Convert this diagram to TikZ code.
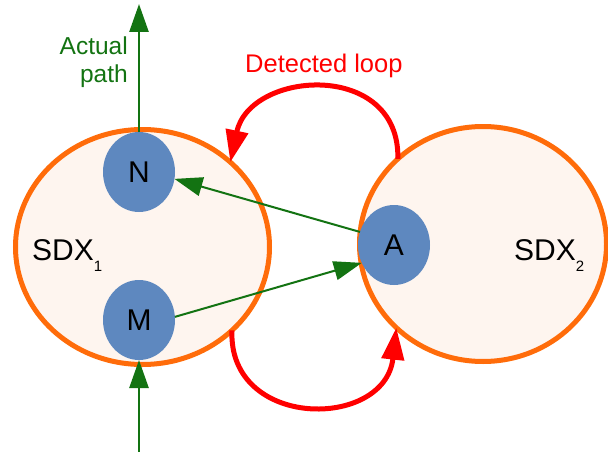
\documentclass[tikz,border=0pt]{standalone}
\usepackage{fontspec}
\setmainfont{Liberation Sans}
\usetikzlibrary{shapes.geometric,arrows.meta}

\definecolor{sdxorange}{HTML}{FF6C0A}
\definecolor{sdxfill}{HTML}{FEF5EF}
\definecolor{hostblue}{HTML}{5E88BF}
\definecolor{flowgreen}{HTML}{137312}
\definecolor{loopred}{HTML}{FF0000}

\tikzset{
  sdx/.style={ellipse, draw=sdxorange, fill=sdxfill, line width=5pt,
    inner sep=0pt, outer sep=0pt},
  host/.style={ellipse, fill=hostblue, inner sep=0pt, outer sep=0pt,
    minimum width=72pt, minimum height=80pt,
    font=\fontsize{30}{36}\selectfont},
  flow/.style={draw=flowgreen, line width=2pt,
    -{Triangle[length=28pt,width=19pt]}},
  loopcurve/.style={draw=loopred, line width=5pt,
    -{Triangle[length=32pt,width=22pt]}},
  greentext/.style={text=flowgreen, inner sep=0pt,
    font=\fontsize{24.5}{28}\selectfont},
  redtext/.style={text=loopred, inner sep=0pt,
    font=\fontsize{25.5}{30}\selectfont},
  sdxtext/.style={inner sep=0pt, font=\fontsize{30}{36}\selectfont},
}

\newcommand{\sdxsub}[1]{\raisebox{-11pt}{\fontsize{15}{15}\selectfont #1}}

\begin{document}
\begin{tikzpicture}[x=1pt,y=-1pt]
\useasboundingbox (0,0) rectangle (608,452);

% the two exchange points
\node[sdx, minimum width=254pt, minimum height=235pt] (L) at (142.5,247) {};
\node[sdx, minimum width=247pt, minimum height=235pt] (R) at (483,244) {};

% routers
\node[host] (N) at (139,172) {N};
\node[host] (M) at (139,320) {M};
\node[host] (A) at (394,245) {A};

% loop between the exchanges
\draw[loopcurve] (R.135) .. controls (400,60) and (250,70) .. (L.44);
\draw[loopcurve] (L.-43) .. controls (228,430) and (385,430) .. (R.224);

% forwarding path
\coordinate (out) at (139,4);
\coordinate (in) at (139,452);
\draw[flow, line width=2.6pt] (N.north) -- (out);
\draw[flow, line width=2.6pt] (in) -- (M.south);
\draw[flow] (A.159) -- (N.-11);
\draw[flow] (M.5) -- (A.209);

% labels (base anchor sits on the last line)
\node[greentext, align=right, anchor=base east] (actual) at (128,82) {Actual\\path};
\node[redtext, anchor=base west] (loopname) at (245,73) {Detected loop};
\node[sdxtext, anchor=base west] (sdxone) at (32,260) {SDX\sdxsub{1}};
\node[sdxtext, anchor=base west] (sdxtwo) at (514,260) {SDX\sdxsub{2}};
\end{tikzpicture}
\end{document}
